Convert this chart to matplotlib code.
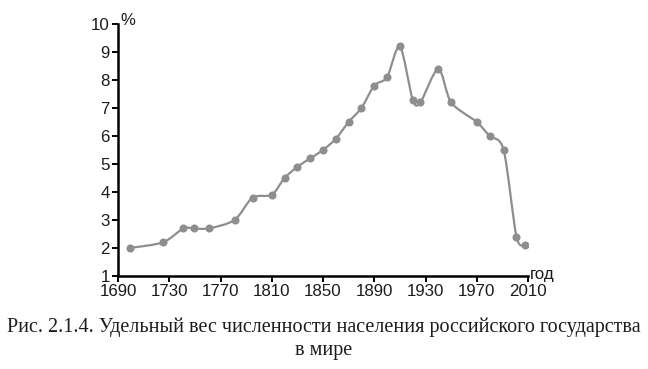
import numpy as np
import matplotlib.pyplot as plt
from matplotlib.path import Path
from matplotlib.patches import PathPatch

# Data
years = [1699, 1725, 1741, 1749, 1761, 1781, 1795, 1810, 1820, 1830, 1840,
         1850, 1860, 1870, 1880, 1890, 1900, 1910, 1920, 1926, 1940, 1950,
         1970, 1980, 1991, 2001, 2008]
share = [2.0, 2.2, 2.7, 2.7, 2.7, 3.0, 3.8, 3.9, 4.5, 4.9, 5.2,
         5.5, 5.9, 6.5, 7.0, 7.8, 8.1, 9.2, 7.3, 7.2, 8.4, 7.2,
         6.5, 6.0, 5.5, 2.4, 2.1]
x_ticks = [1690, 1730, 1770, 1810, 1850, 1890, 1930, 1970, 2010]
y_ticks = [1, 2, 3, 4, 5, 6, 7, 8, 9, 10]
caption_lines = ["Рис. 2.1.4. Удельный вес численности населения российского государства",
                 "в мире"]

gray = "#8e8e8e"
txt = "#1c1c1c"

fig = plt.figure(figsize=(6.48, 3.69), dpi=100)
ax = fig.add_axes([118 / 648, 1 - 276 / 369, 410 / 648, 252 / 369])

# Smoothed line (Excel-like) as cubic Bezier segments through the points
pts = np.column_stack([years, share]).astype(float)
verts = [pts[0]]
codes = [Path.MOVETO]
k = 1 / 7.0
for i in range(len(pts) - 1):
    p0 = pts[max(i - 1, 0)]
    p1 = pts[i]
    p2 = pts[i + 1]
    p3 = pts[min(i + 2, len(pts) - 1)]
    c1 = p1 + (p2 - p0) * k
    c2 = p2 - (p3 - p1) * k
    verts += [c1, c2, p2]
    codes += [Path.CURVE4] * 3
ax.add_patch(PathPatch(Path(verts, codes), facecolor="none", edgecolor=gray,
                       lw=1.6, zorder=2))
ax.plot(years, share, linestyle="none", marker="o", markersize=4.8,
        color=gray, zorder=3)

ax.set_xlim(1690, 2010)
ax.set_ylim(1, 10)
ax.set_xticks(x_ticks)
ax.set_yticks(y_ticks)

for s in ["top", "right"]:
    ax.spines[s].set_visible(False)
for s in ["left", "bottom"]:
    ax.spines[s].set_linewidth(1.8)
    ax.spines[s].set_color("black")
ax.tick_params(direction="out", length=4.5, width=1.4, colors="black",
               labelcolor=txt, labelsize=12.2, pad=1.5,
               labelfontfamily="Liberation Sans")

ax.text(1692, 10.12, "%", fontsize=12, family="Liberation Sans",
        color=txt, ha="left", va="center")
ax.text(2011.5, 0.9, "год", fontsize=12.2, family="Liberation Sans",
        color=txt, ha="left", va="baseline")

fig.text(0.5, 1 - 327 / 369, caption_lines[0], ha="center", va="center",
         family="Liberation Serif", fontsize=14.5, color=txt)
fig.text(0.5, 1 - 350 / 369, caption_lines[1], ha="center", va="center",
         family="Liberation Serif", fontsize=14.5, color=txt)

fig.savefig("out.png", dpi=100)
